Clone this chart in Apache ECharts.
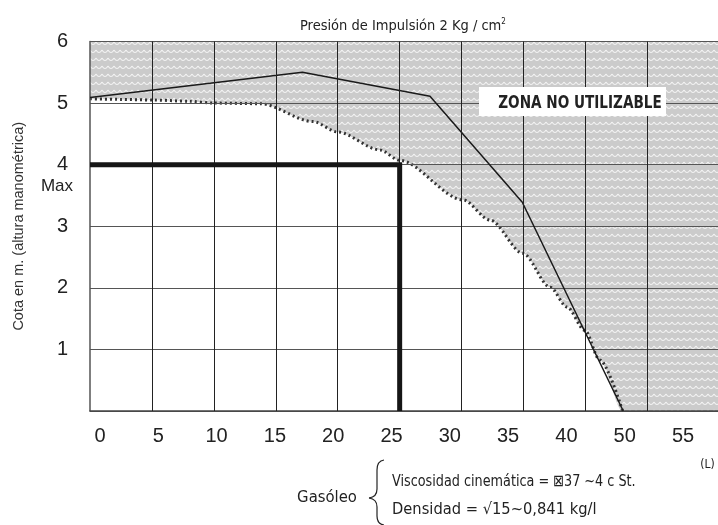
<!DOCTYPE html>
<html>
<head>
<meta charset="utf-8">
<script src="https://cdn.jsdelivr.net/npm/echarts@6/dist/echarts.min.js"></script>
<style>
  html, body { margin: 0; padding: 0; background: #fff; }
  #chart { width: 718px; height: 525px; }
</style>
</head>
<body>
<div id="chart"></div>
<script>
// x is measured in grid cells (10 cells across), y in metres
var xLabels = ['0', '5', '10', '15', '20', '25', '30', '35', '40', '50', '55']
var yTicks = [1, 2, 3, 4, 5, 6]
var gridCols = [1, 2, 3, 4, 5, 6, 7, 8, 9]

// pump curve (thin line)
var pumpX = [0, 3.43, 5.49, 6.98, 8.61]
var pumpY = [5.09, 5.50, 5.11, 3.39, 0]

// max height line (thick)
var maxX = [0, 5, 5]
var maxY = [4, 4, 0]

// edge of the "zona no utilizable"
var limitX = [0, 0.5, 1.0, 1.6, 2.0, 2.75, 3.6, 4.0, 4.68, 5.0, 6.02, 6.46, 6.99, 7.43, 7.7, 7.99, 8.23, 8.6]
var limitY = [5.07, 5.06, 5.05, 5.03, 5.0, 4.99, 4.70, 4.53, 4.24, 4.07, 3.43, 3.10, 2.56, 2.01, 1.69, 1.31, 0.83, 0]

var xMax = 10.14

function pairs (xs, ys) {
  return xs.map(function (x, i) { return [x, ys[i]] })
}

var narrow = '"DejaVu Sans Condensed", "DejaVu Sans", sans-serif'
var arial = '"Liberation Sans", Arial, sans-serif'

var zone = pairs(limitX, limitY).concat([[xMax, 0]])

// grey wavy texture for the unusable zone
function wavePattern () {
  var c = document.createElement('canvas')
  c.width = 6
  c.height = 8
  var ctx = c.getContext('2d')
  ctx.fillStyle = '#cbcbcb'
  ctx.fillRect(0, 0, 6, 8)
  ctx.strokeStyle = '#f4f4f4'
  ctx.lineWidth = 1.1
  ctx.beginPath()
  ctx.moveTo(0, 2)
  ctx.quadraticCurveTo(3, 7, 6, 2)
  ctx.stroke()
  return c
}

var chart = echarts.init(document.getElementById('chart'), null, { renderer: 'canvas' })

function txt (x, y, text, font, align, sx) {
  return {
    type: 'text', x: x, y: y, scaleX: sx || 1, z: 101,
    style: { text: text, fill: '#222', font: font, textAlign: align || 'center', textVerticalAlign: 'middle' }
  }
}

function brace (x, y) {
  // curly brace opening to the right, tip at (x, y)
  var s = { stroke: '#222', lineWidth: 1.2, fill: null }
  return [
    { type: 'bezierCurve', shape: { x1: x + 15, y1: y - 38, cpx1: x + 8, cpy1: y - 37, x2: x + 8, y2: y - 28 }, style: s },
    { type: 'line', shape: { x1: x + 8, y1: y - 28, x2: x + 8, y2: y - 9 }, style: s },
    { type: 'bezierCurve', shape: { x1: x + 8, y1: y - 9, cpx1: x + 8, cpy1: y - 1, x2: x, y2: y }, style: s },
    { type: 'bezierCurve', shape: { x1: x, y1: y, cpx1: x + 8, cpy1: y + 1, x2: x + 8, y2: y + 9 }, style: s },
    { type: 'line', shape: { x1: x + 8, y1: y + 9, x2: x + 8, y2: y + 18 }, style: s },
    { type: 'bezierCurve', shape: { x1: x + 8, y1: y + 18, cpx1: x + 8, cpy1: y + 26, x2: x + 15, y2: y + 27 }, style: s }
  ]
}

var option = {
  animation: false,
  backgroundColor: '#fff',
  title: {
    text: '{a|Presión de Impulsión 2 Kg / cm}{s|2}',
    left: 295,
    top: 13,
    textStyle: {
      fontWeight: 'normal',
      rich: {
        a: { fontSize: 14.5, fontFamily: narrow, fontWeight: 'normal', color: '#222' },
        s: { fontSize: 8, fontFamily: narrow, fontWeight: 'normal', color: '#222', padding: [0, 0, 8, 0] }
      }
    }
  },
  grid: [
    { left: 90, right: 0, top: 41.5, bottom: 114 },
    { left: 100, right: 35, top: 41.5, bottom: 114, show: false }
  ],
  xAxis: [
    {
      type: 'value', gridIndex: 0, min: 0, max: xMax, interval: 1, z: 3,
      axisLine: { show: true, lineStyle: { color: '#444', width: 1.5 } },
      axisTick: { show: false },
      axisLabel: { show: false },
      splitLine: { show: false }
    },
    {
      type: 'category', gridIndex: 1, data: xLabels, boundaryGap: false,
      axisLine: { show: false },
      axisTick: { show: false },
      splitLine: { show: false },
      axisLabel: { fontSize: 20, fontFamily: arial, color: '#222', margin: 15, interval: 0 }
    }
  ],
  yAxis: [
    {
      type: 'value', gridIndex: 0, min: 0, max: 6, interval: 1, z: 3,
      name: 'Cota en m. (altura manométrica)',
      nameLocation: 'middle',
      nameGap: 64,
      nameTextStyle: { fontSize: 14.5, fontFamily: arial, color: '#333' },
      axisLine: { show: true, lineStyle: { color: '#555', width: 1.5 } },
      axisTick: { show: false },
      axisLabel: {
        fontSize: 20, fontFamily: arial, color: '#222', margin: 22,
        formatter: function (v) { return yTicks.indexOf(v) >= 0 ? String(v) : '' }
      },
      splitLine: { show: true, lineStyle: { color: '#555', width: 1 } }
    },
    { type: 'value', gridIndex: 1, show: false, min: 0, max: 6 }
  ],
  series: [
    {
      name: 'zona',
      type: 'line',
      xAxisIndex: 0, yAxisIndex: 0,
      z: 1,
      data: zone,
      showSymbol: false,
      smooth: 0.3,
      smoothMonotone: 'x',
      lineStyle: { width: 0 },
      areaStyle: {
        origin: 'end',
        opacity: 1,
        color: { image: wavePattern(), repeat: 'repeat' }
      },
      silent: true
    },
    {
      name: 'borde',
      type: 'line',
      z: 2,
      data: pairs(limitX, limitY),
      showSymbol: false,
      smooth: 0.3,
      smoothMonotone: 'x',
      lineStyle: { width: 3, color: '#333', type: [2, 3] },
      silent: true
    },
    {
      name: 'cuadricula',
      type: 'line',
      z: 2,
      data: [],
      markLine: {
        silent: true,
        symbol: 'none',
        label: { show: false },
        lineStyle: { color: '#222', width: 1, type: 'solid' },
        data: gridCols.map(function (c) { return { xAxis: c } })
      }
    },
    {
      name: 'bomba',
      type: 'line',
      z: 4,
      data: pairs(pumpX, pumpY),
      showSymbol: false,
      lineStyle: { width: 1.5, color: '#1a1a1a' },
      silent: true
    },
    {
      name: 'max',
      type: 'line',
      z: 5,
      data: pairs(maxX, maxY),
      showSymbol: false,
      lineStyle: { width: 5, color: '#161616', cap: 'butt', join: 'miter' },
      silent: true
    }
  ],
  graphic: [
    {
      type: 'rect', z: 100,
      shape: { x: 479, y: 87, width: 187, height: 29 },
      style: { fill: '#fff' }
    },
    txt(580, 103, 'ZONA NO UTILIZABLE', 'bold 18px ' + narrow, 'center', 0.84),
    txt(57, 186, 'Max', '17px ' + arial),
    txt(707.5, 465, '(L)', '12px ' + narrow),
    txt(327, 498, 'Gasóleo', '16.5px ' + narrow),
    txt(392, 482, 'Viscosidad cinemática = \u22A037 ~4 c St.', '16px ' + narrow, 'left', 0.89),
    txt(392, 510, 'Densidad = \u221A15~0,841 kg/l', '16px ' + narrow, 'left', 1.02)
  ].concat(brace(369, 498))
}

chart.setOption(option)
</script>
</body>
</html>
